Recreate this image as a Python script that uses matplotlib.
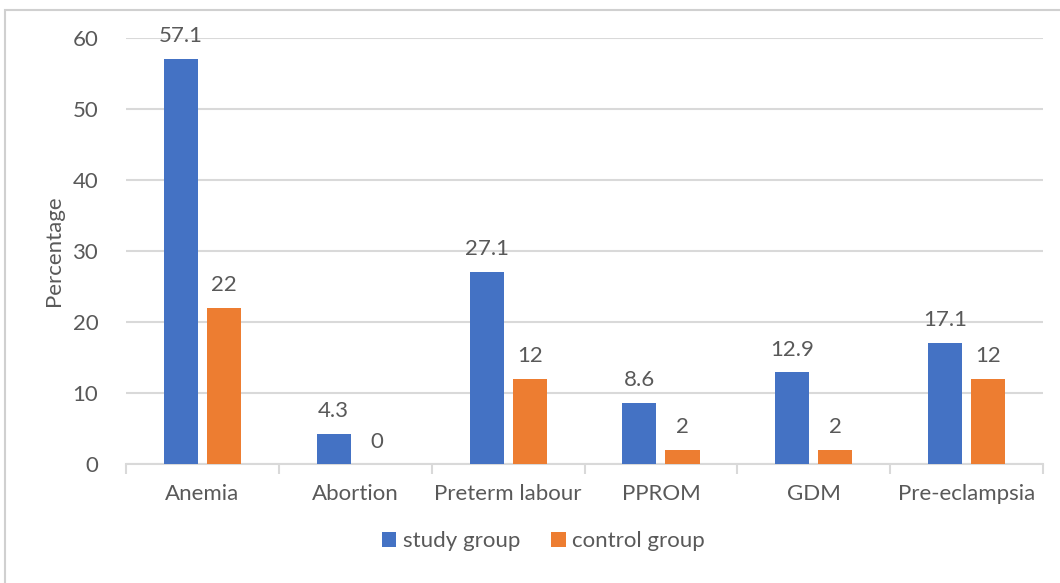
import matplotlib.pyplot as plt
import numpy as np
from matplotlib.patches import Rectangle

categories = ["Anemia", "Abortion", "Preterm labour", "PPROM", "GDM", "Pre-eclampsia"]
study_group = [57.1, 4.3, 27.1, 8.6, 12.9, 17.1]
control_group = [22, 0, 12, 2, 2, 12]
yticks = [0, 10, 20, 30, 40, 50, 60]

BLUE = "#4472C4"
ORANGE = "#ED7D31"
TEXT = "#595959"
GRID = "#D9D9D9"
FS = 16

plt.rcParams["font.family"] = ["Lato", "DejaVu Sans"]

fig = plt.figure(figsize=(10.6, 5.83), dpi=100)
ax = fig.add_axes([0.1189, 0.204, 0.8651, 0.7308])

# light frame around the chart area
fig.patches.append(Rectangle((5 / 1060, -0.1), 1.2, 1.1 - 10 / 583, transform=fig.transFigure,
                             fill=False, edgecolor="#D0D0D0", linewidth=1.5))

x = np.arange(len(categories))
width = 0.223
offset = 0.141

bars_study = ax.bar(x - offset, study_group, width, color=BLUE, label="study group", zorder=3)
bars_control = ax.bar(x + offset, control_group, width, color=ORANGE, label="control group", zorder=3)

for bars, values in ((bars_study, study_group), (bars_control, control_group)):
    for bar, v in zip(bars, values):
        ax.annotate(f"{v:g}", (bar.get_x() + bar.get_width() / 2, v),
                    xytext=(0, 9), textcoords="offset points",
                    ha="center", va="bottom", fontsize=FS, color=TEXT)

ax.set_xlim(-0.5, len(categories) - 0.5)
ax.set_ylim(0, 60)
ax.set_yticks(yticks)
ax.yaxis.grid(True, color=GRID, linewidth=1.5, zorder=0)
ax.set_axisbelow(True)

ax.set_xticks(x)
ax.set_xticklabels(categories)
ax.set_xticks(np.arange(len(categories) + 1) - 0.5, minor=True)
ax.tick_params(axis="x", which="major", length=0, pad=14, labelsize=FS, labelcolor=TEXT)
ax.tick_params(axis="x", which="minor", length=7, color=GRID, width=1.5)
ax.tick_params(axis="y", length=0, pad=20, labelsize=FS, labelcolor=TEXT)

for side in ("top", "right", "left"):
    ax.spines[side].set_visible(False)
ax.spines["bottom"].set_color(GRID)
ax.spines["bottom"].set_linewidth(1.5)

ax.set_ylabel("Percentage", fontsize=FS, color=TEXT, labelpad=6)

ax.legend(loc="center", bbox_to_anchor=(0.455, -0.181), ncol=2, frameon=False,
          fontsize=FS, labelcolor=TEXT, handlelength=0.65, handleheight=0.65,
          handletextpad=0.3, columnspacing=1.4)

fig.savefig("out.png", dpi=100)
